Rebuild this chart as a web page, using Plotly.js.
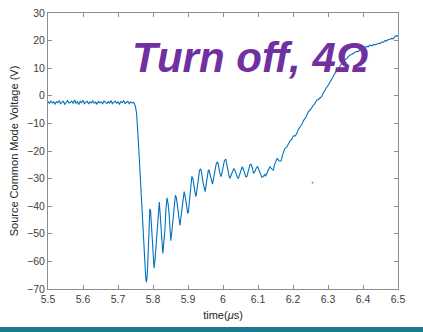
<!DOCTYPE html>
<html><head><meta charset="utf-8">
<script src="https://cdn.plot.ly/plotly-3.0.1.min.js"></script>
<style>html,body{margin:0;padding:0;background:#fff;}#plot{width:423px;height:332px;}</style>
</head><body><div id="plot"></div>
<script>
// time (µs)
const timeUs = [
5.500,5.504,5.508,5.512,5.516,5.520,5.524,5.528,5.532,5.536,5.540,5.544,5.548,5.552,5.556,5.560,5.564,5.568,5.572,5.576,
5.580,5.584,5.588,5.592,5.596,5.600,5.604,5.608,5.612,5.616,5.620,5.624,5.628,5.632,5.636,5.640,5.644,5.648,5.652,5.656,
5.660,5.664,5.668,5.672,5.676,5.680,5.684,5.688,5.692,5.696,5.700,5.704,5.708,5.712,5.716,5.720,5.724,5.728,5.732,5.736,
5.740,5.744,
5.747,5.750,5.753,5.756,5.758,5.761,5.763,5.766,5.768,5.770,5.772,5.775,5.777,5.779,5.781,5.783,5.785,5.787,5.789,5.791,
5.793,5.796,5.799,5.801,5.803,5.806,5.810,5.813,5.816,5.818,5.820,5.822,5.825,5.828,5.831,5.834,5.837,5.840,5.843,5.846,
5.849,5.851,5.854,5.858,5.861,5.864,5.867,5.871,5.874,5.877,5.880,5.884,5.887,5.889,5.892,5.896,5.899,5.901,5.904,5.907,
5.909,5.911,5.914,5.917,5.920,5.923,5.926,5.930,5.933,5.936,5.939,5.943,5.946,5.949,5.952,5.955,5.958,5.960,5.963,5.967,
5.970,5.973,5.977,5.980,5.984,5.987,5.990,5.994,5.997,6.001,6.004,6.008,6.011,6.015,6.018,6.020,6.024,6.028,6.031,6.034,
6.038,6.041,6.044,6.048,6.052,6.055,6.058,6.062,6.065,6.068,6.071,6.074,6.077,6.080,6.084,6.087,6.091,6.095,6.099,6.103,
6.107,6.111,6.115,6.119,6.122,6.125,6.129,6.134,6.139,6.144,6.147,6.151,6.155,6.160,6.166,6.170,6.174,6.177,6.182,6.186,
6.191,6.196,6.201,6.206,6.211,6.216,6.220,6.225,6.230,6.234,6.238,6.243,6.248,6.253,6.257,6.262,6.268,6.272,6.277,6.282,
6.287,6.292,6.296,6.301,6.306,6.311,6.316,6.320,6.325,6.330,6.335,6.339,6.344,6.349,6.353,6.358,6.363,6.368,6.373,6.378,
6.382,6.387,6.391,6.396,6.401,6.406,6.410,6.415,6.420,6.425,6.430,6.435,6.439,6.444,6.449,6.453,6.458,6.463,6.468,6.472,
6.477,6.482,6.487,6.491,6.496,6.500
];
// source common mode voltage (V)
const voltageV = [
-2.0,-2.8,-1.9,-2.6,-2.2,-3.0,-2.1,-2.5,-1.8,-2.9,-2.3,-2.0,-3.1,-2.2,-1.7,-2.6,-2.4,-1.9,-2.8,-1.5,
-2.7,-2.1,-3.2,-2.0,-2.5,-1.6,-2.9,-2.3,-2.0,-3.0,-2.2,-2.6,-1.8,-2.7,-2.3,-3.1,-2.0,-2.5,-2.2,-2.9,
-1.9,-2.4,-2.8,-2.1,-2.6,-1.7,-2.9,-2.3,-2.0,-2.7,-2.2,-3.0,-2.1,-2.5,-1.8,-2.8,-2.3,-2.0,-2.9,-2.2,
-2.6,-2.4,
-2.9,-4.0,-6.3,-11,-16,-23,-28,-35,-40.2,-46,-52.2,-59,-63.1,-65.5,-67.5,-66,-61,-55.9,-47,-41,
-41.5,-48.6,-56,-61,-62.5,-59,-52.2,-44,-39,-38.5,-42,-46.2,-53,-57.1,-53,-48.6,-41,-37,-39,-42.6,
-49,-52.5,-49,-43.5,-38.5,-36,-37,-40.2,-44,-47,-44,-39,-35.5,-34.7,-36.5,-40.2,-42.5,-42.3,-38,-34.1,
-31,-29.2,-30,-32.9,-35,-36.5,-33,-29,-27,-26.5,-28,-31.5,-34,-34.7,-32,-29,-27,-26.9,-28.5,-31,
-32,-30,-27,-25,-23.9,-25,-27.5,-29.3,-28,-25,-23.5,-22.9,-24.5,-27.5,-29.5,-29.9,-28.5,-27,-26.3,-27,
-28.5,-29.5,-29.9,-28,-26.5,-25.7,-26.5,-28.5,-29.3,-29.3,-27.5,-26.3,-25,-24.8,-26,-28.1,-27.5,-26.2,-25.7,-27,
-28.3,-29.5,-29.3,-28.5,-29,-28.1,-27,-25.7,-26.5,-26.9,-25,-23.5,-22.6,-23.6,-23.6,-21.5,-20,-19,-18.6,-17.5,
-16.5,-15.8,-14.5,-14.6,-13.6,-12,-11.4,-10.4,-9,-8.3,-7.5,-6,-5.3,-4.5,-3.5,-2.9,-1.5,-1.4,-0.8,-0.3,
1.2,2.5,3.0,3.9,5.2,6.6,7.3,8.2,9.0,9.6,11.0,11.8,12.3,13.2,13.4,14.2,14.8,15.0,15.3,15.8,
16.1,16.0,16.8,17.2,17.0,17.5,17.9,17.7,18.4,18.1,18.6,18.4,18.8,19.0,18.9,19.5,19.4,20.0,19.9,20.4,
20.5,20.8,20.7,21.5,21.8,21.6
];
// isolated stray sample visible in the figure
const strayT = [6.256];
const strayV = [-31.5];

const xTicks = [5.5,5.6,5.7,5.8,5.9,6,6.1,6.2,6.3,6.4,6.5];
const xTickText = ['5.5','5.6','5.7','5.8','5.9','6','6.1','6.2','6.3','6.4','6.5'];
const yTicks = [30,20,10,0,-10,-20,-30,-40,-50,-60,-70];

const axisCommon = {
  showgrid:false, zeroline:false, showline:true, mirror:'ticks',
  linecolor:'#8c8c8c', linewidth:1, ticks:'inside', ticklen:4, tickcolor:'#8c8c8c',
  tickfont:{family:'Liberation Sans, Arial, sans-serif', size:10.5, color:'#404040'}
};

const traces = [
  {x:timeUs, y:voltageV, type:'scatter', mode:'lines',
   line:{color:'#0072BD', width:1.1}, hoverinfo:'skip'},
  {x:strayT, y:strayV, type:'scatter', mode:'markers',
   marker:{color:'#999999', size:2}, hoverinfo:'skip'}
];

const layout = {
  width:423, height:332, showlegend:false,
  paper_bgcolor:'#ffffff', plot_bgcolor:'#ffffff',
  margin:{l:48, r:25, t:13, b:43, pad:0},
  xaxis:Object.assign({}, axisCommon, {
    range:[5.5,6.5], tickvals:xTicks, ticktext:xTickText,
    title:{text:'time(<i>μ</i>s)', standoff:7,
      font:{family:'Liberation Sans, Arial, sans-serif', size:11, color:'#262626'}}
  }),
  yaxis:Object.assign({}, axisCommon, {
    range:[-70,30], tickvals:yTicks,
    title:{text:'Source Common Mode Voltage (V)', standoff:6,
      font:{family:'Liberation Sans, Arial, sans-serif', size:11, color:'#262626'}}
  }),
  annotations:[{
    xref:'paper', yref:'paper', x:0.578, y:0.84, xanchor:'center', yanchor:'middle',
    showarrow:false, text:'<b><i>Turn off, 4Ω</i></b>',
    font:{family:'Liberation Sans, Arial, sans-serif', size:42, color:'#7030A0'}
  }],
  shapes:[{
    type:'rect', xref:'paper', yref:'paper', x0:-0.14, x1:1.08, y0:-0.1377, y1:-0.16,
    fillcolor:'#1a7b8f', line:{width:0}, layer:'above'
  }]
};

Plotly.newPlot('plot', traces, layout, {displayModeBar:false, staticPlot:true});
</script>
</body></html>
